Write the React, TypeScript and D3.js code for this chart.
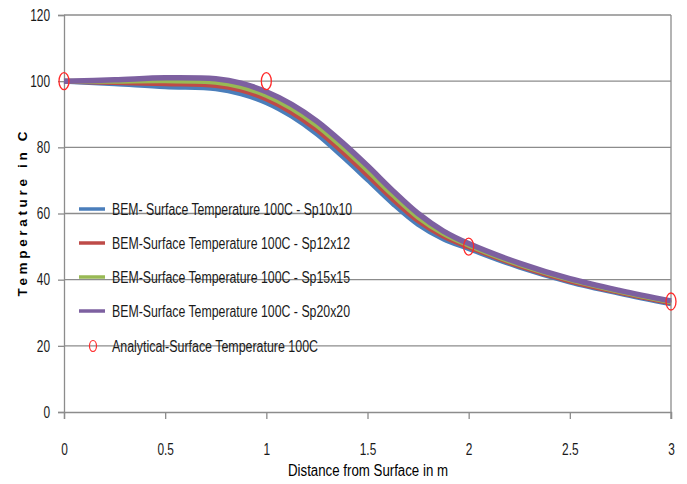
import { useEffect, useRef } from 'react'
import * as d3 from 'd3'

// distance from surface (m)
const distances = [0, 0.25, 0.5, 0.75, 0.875, 1, 1.125, 1.25, 1.375, 1.5, 1.625, 1.75, 1.875, 2, 2.25, 2.5, 2.75, 3]

// BEM series, temperature in C
const sp10 = [100, 99.2, 98.3, 97.7, 96.2, 93.5, 89.4, 84.0, 77.3, 70.2, 63.0, 56.7, 52.3, 49.4, 43.8, 39.3, 35.8, 32.7]
const sp12 = [100, 99.6, 99.2, 98.7, 97.3, 94.6, 90.6, 85.3, 78.7, 71.6, 64.3, 57.8, 53.1, 49.9, 44.2, 39.6, 36.1, 33.0]
const sp15 = [100, 100.0, 100.1, 99.7, 98.3, 95.7, 91.8, 86.6, 80.1, 73.0, 65.6, 58.9, 53.9, 50.4, 44.6, 40.0, 36.4, 33.3]
const sp20 = [100, 100.4, 101.0, 100.7, 99.4, 96.8, 93.0, 87.9, 81.5, 74.4, 66.9, 60.0, 54.7, 50.9, 45.0, 40.3, 36.7, 33.6]

// analytical solution
const analyticX = [0, 1, 2, 3]
const analyticY = [100, 100, 50, 33.4]

const seriesNames = [
  'BEM- Surface Temperature 100C - Sp10x10',
  'BEM-Surface Temperature 100C - Sp12x12',
  'BEM-Surface Temperature 100C - Sp15x15',
  'BEM-Surface Temperature 100C - Sp20x20',
]
const analyticName = 'Analytical-Surface Temperature 100C'
const seriesColors = ['#4A7EBB', '#BE4B48', '#98B954', '#7D60A0']

const xTicks = [0, 0.5, 1, 1.5, 2, 2.5, 3]
const yTicks = [0, 20, 40, 60, 80, 100, 120]

const W = 687
const H = 484
const FONT = '"Liberation Sans", Arial, sans-serif'

// squeeze text horizontally to mimic a narrow font
function squeeze(sel: d3.Selection<any, any, any, any>, k: number) {
  sel.each(function () {
    const t = this as SVGTextElement
    t.setAttribute('textLength', String(t.getComputedTextLength() * k))
    t.setAttribute('lengthAdjust', 'spacingAndGlyphs')
  })
}

export default function App() {
  const svgRef = useRef<SVGSVGElement>(null)

  useEffect(() => {
    if (!svgRef.current) return
    const svg = d3.select(svgRef.current)
    svg.selectAll('*').remove()

    const x = d3.scaleLinear().domain([0, 3]).range([64, 671])
    const y = d3.scaleLinear().domain([0, 120]).range([412, 15])

    // gridlines
    svg.append('g')
      .selectAll('line')
      .data(yTicks.slice(1))
      .enter()
      .append('line')
      .attr('x1', x(0))
      .attr('x2', x(3))
      .attr('y1', d => y(d))
      .attr('y2', d => y(d))
      .attr('stroke', '#8c8c8c')
      .attr('stroke-width', 1.3)

    // right border
    svg.append('line')
      .attr('x1', x(3)).attr('x2', x(3))
      .attr('y1', y(120)).attr('y2', y(0) + 7)
      .attr('stroke', '#8c8c8c').attr('stroke-width', 1.3)

    // axes
    const xAxis = svg.append('g')
      .attr('transform', `translate(0,${y(0)})`)
      .call(d3.axisBottom(x).tickValues(xTicks).tickSize(7).tickPadding(24).tickFormat(d => String(d)))
    const yAxis = svg.append('g')
      .attr('transform', `translate(${x(0)},0)`)
      .call(d3.axisLeft(y).tickValues(yTicks).tickSize(6).tickPadding(8).tickFormat(d => String(d)))
    for (const ax of [xAxis, yAxis]) {
      ax.select('.domain').attr('stroke', '#8c8c8c').attr('stroke-width', 1.3)
      ax.selectAll('.tick line').attr('stroke', '#8c8c8c').attr('stroke-width', 1.3)
      ax.selectAll('.tick text')
        .attr('fill', '#1a1a1a')
        .style('font-family', FONT)
        .style('font-size', '16.5px')
      squeeze(ax.selectAll('.tick text'), 0.72)
    }

    // lines
    const line = d3.line<number>()
      .x((_, i) => x(distances[i]))
      .y(d => y(d))
      .curve(d3.curveCatmullRom.alpha(0.5))
    ;[sp10, sp12, sp15, sp20].forEach((s, i) => {
      svg.append('path')
        .datum(s)
        .attr('d', line)
        .attr('fill', 'none')
        .attr('stroke', seriesColors[i])
        .attr('stroke-width', i === 3 ? 5.5 : 5)
        .attr('stroke-linecap', 'butt')
    })

    // analytical markers
    svg.append('g')
      .selectAll('ellipse')
      .data(analyticY)
      .enter()
      .append('ellipse')
      .attr('cx', (_, i) => x(analyticX[i]))
      .attr('cy', d => y(d))
      .attr('rx', 5)
      .attr('ry', 8.5)
      .attr('fill', 'none')
      .attr('stroke', '#ff2a2a')
      .attr('stroke-width', 1.3)

    // legend
    const legendY = [209, 243, 277, 311]
    const legendLen = [240, 238, 238, 238]
    seriesNames.forEach((name, i) => {
      svg.append('line')
        .attr('x1', 79).attr('x2', 105)
        .attr('y1', legendY[i]).attr('y2', legendY[i])
        .attr('stroke', seriesColors[i]).attr('stroke-width', 3.5)
      svg.append('text')
        .attr('x', 112).attr('y', legendY[i] + 5.5)
        .attr('textLength', legendLen[i])
        .attr('lengthAdjust', 'spacingAndGlyphs')
        .style('font-family', FONT)
        .style('font-size', '16px')
        .attr('fill', '#1a1a1a')
        .text(name)
    })
    svg.append('ellipse')
      .attr('cx', 93).attr('cy', 346)
      .attr('rx', 3.5).attr('ry', 5.5)
      .attr('fill', 'none').attr('stroke', '#ff2a2a').attr('stroke-width', 1.2)
    svg.append('text')
      .attr('x', 112).attr('y', 351.5)
      .attr('textLength', 206)
      .attr('lengthAdjust', 'spacingAndGlyphs')
      .style('font-family', FONT)
      .style('font-size', '16px')
      .attr('fill', '#1a1a1a')
      .text(analyticName)

    // axis titles
    svg.append('text')
      .attr('x', 368).attr('y', 476)
      .attr('text-anchor', 'middle')
      .attr('textLength', 160)
      .attr('lengthAdjust', 'spacingAndGlyphs')
      .style('font-family', FONT)
      .style('font-size', '16px')
      .attr('fill', '#000')
      .text('Distance from Surface in m')
    svg.append('text')
      .attr('transform', 'translate(27,214) rotate(-90)')
      .attr('text-anchor', 'middle')
      .attr('textLength', 165)
      .attr('lengthAdjust', 'spacing')
      .style('font-family', FONT)
      .style('font-size', '13.5px')
      .style('font-weight', 'bold')
      .attr('fill', '#000')
      .text('Temperature in C')
  }, [])

  return (
    <svg
      ref={svgRef}
      width={W}
      height={H}
      style={{ position: 'absolute', left: 0, top: 0, background: '#fff' }}
    />
  )
}
